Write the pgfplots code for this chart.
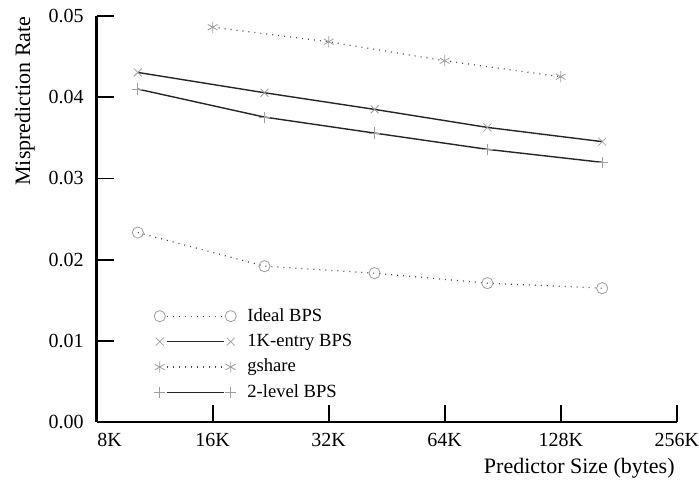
\documentclass[border=0pt]{standalone}
\usepackage{pgfplots}
\pgfplotsset{compat=1.18}
\usepackage{fontspec}
\setmainfont{Liberation Serif}

\definecolor{markgray}{gray}{0.62}
\definecolor{dotgray}{gray}{0.30}

\begin{document}
\begin{tikzpicture}
\begin{axis}[
  name=ax,
  scale only axis,
  width=290pt, height=203pt,
  font=\fontsize{11}{13}\selectfont,
  xmode=log, log basis x=2,
  xmin=8, xmax=256, ymin=0, ymax=0.05,
  xtick={8,16,32,64,128,256},
  xticklabels={\hspace*{13pt}8K,16K,32K,64K,128K,256K},
  ytick={0,0.01,0.02,0.03,0.04,0.05},
  scaled y ticks=false,
  tick label style={font=\fontsize{10}{12}\selectfont},
  yticklabel style={/pgf/number format/fixed, /pgf/number format/fixed zerofill,
    /pgf/number format/precision=2, xshift=-3pt},
  /pgf/number format/assume math mode=true,
  axis x line=bottom, axis y line=left,
  axis line style={line width=1.4pt, -},
  tick align=inside,
  major tick length=8.5pt,
  every tick/.style={black, line width=0.9pt},
  xticklabel style={yshift=-2pt},
  ylabel={Misprediction Rate},
  ylabel style={at={(axis description cs:-0.124,1.0)}, anchor=east, rotate=0, inner sep=0pt},
  xlabel={Predictor Size (bytes)},
  xlabel style={at={(axis description cs:0.997,-0.128)}, anchor=base east, inner sep=0pt},
  clip=false,
  every axis plot/.append style={mark size=2.8pt},
  legend image code/.code={
    \draw[#1, mark=none] (3.5pt,0pt) -- (32pt,0pt);
    \draw[#1, only marks] plot coordinates {(0pt,0pt) (35.5pt,0pt)};
  },
  legend style={at={(axis description cs:0.088,0.296)}, anchor=north west,
    draw=none, fill=none, font=\fontsize{9.3}{11}\selectfont,
    row sep=2.9pt, column sep=4.5pt,
    nodes={inner sep=1pt}},
  legend cell align=left,
]
% Ideal BPS
\addplot[dotgray, line width=0.6pt, dash pattern=on 0.5pt off 2.5pt,
  mark=o, mark options={solid, markgray, line width=0.4pt}]
  coordinates {(10.23,0.02333) (21.8,0.01919) (42.1,0.01833) (82.6,0.01710) (164,0.01648)};
\addlegendentry{Ideal BPS}
% 1K-entry BPS
\addplot[black!85, line width=0.7pt,
  mark=x, mark options={solid, markgray, line width=0.4pt}]
  coordinates {(10.23,0.04305) (21.8,0.04055) (42.1,0.03850) (82.6,0.03628) (164,0.03453)};
\addlegendentry{1K-entry BPS}
% gshare
\addplot[dotgray, line width=0.6pt, dash pattern=on 0.5pt off 2.5pt,
  mark=asterisk, mark options={solid, markgray, line width=0.4pt}]
  coordinates {(16,0.04862) (32,0.04683) (64,0.04449) (128,0.04252)};
\addlegendentry{gshare}
% 2-level BPS
\addplot[black!85, line width=0.7pt,
  mark=+, mark options={solid, markgray, line width=0.4pt}]
  coordinates {(10.23,0.04100) (21.8,0.03755) (42.1,0.03558) (82.6,0.03358) (164,0.03198)};
\addlegendentry{2-level BPS}
\end{axis}
\pgfresetboundingbox
\path ([shift={(-48.35pt,-30.5pt)}]ax.south west) rectangle ([shift={(301.15pt,211pt)}]ax.south west);
\end{tikzpicture}
\end{document}
